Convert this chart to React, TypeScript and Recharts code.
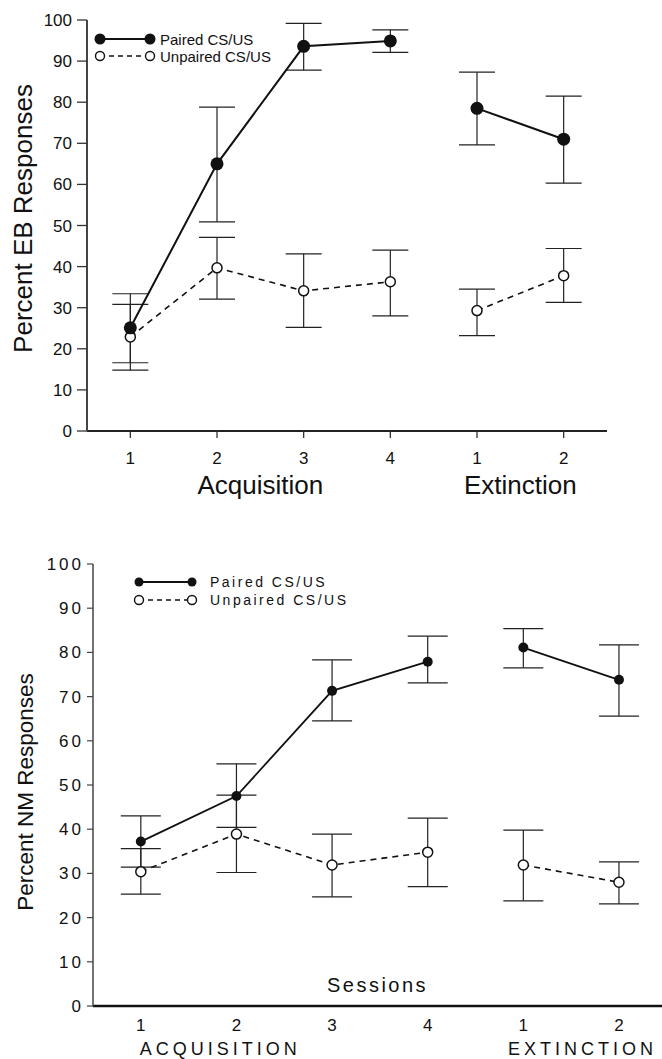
import { LineChart, Line, XAxis, YAxis, ErrorBar, Legend, Label } from 'recharts';

const FONT = 'Arial, "Liberation Sans", Helvetica, sans-serif';

// shared x layout: 4 acquisition sessions then 2 extinction sessions
const sessions = [1, 2, 3, 4, 5, 6];
const sessionTicks = ['1', '2', '3', '4', '1', '2'];
const acqCount = 4;
const yTicks = [0, 10, 20, 30, 40, 50, 60, 70, 80, 90, 100];
const legendNames = ['Paired CS/US', 'Unpaired CS/US'];

// top panel: eyeblink (EB)
const ebPhaseLabels = ['Acquisition', 'Extinction'];
const ebPhaseTicks = [2.5, 5.5];
const ebPaired = [25.1, 65, 93.6, 94.9, 78.5, 71];
const ebPairedLo = [16.6, 50.9, 87.8, 92.1, 69.6, 60.3];
const ebPairedHi = [33.4, 78.8, 99.2, 97.6, 87.3, 81.5];
const ebUnpaired = [22.9, 39.7, 34.1, 36.3, 29.3, 37.8];
const ebUnpairedLo = [14.8, 32.1, 25.2, 28, 23.2, 31.3];
const ebUnpairedHi = [30.8, 47.1, 43.1, 44, 34.5, 44.4];

// bottom panel: nictitating membrane (NM)
const nmPhaseLabels = ['ACQUISITION', 'EXTINCTION'];
const nmPhaseTicks = [1.83, 5.62];
const nmPaired = [37.2, 47.5, 71.3, 77.9, 81.1, 73.8];
const nmPairedLo = [31.4, 40.4, 64.5, 73.1, 76.5, 65.6];
const nmPairedHi = [43, 54.8, 78.3, 83.7, 85.4, 81.7];
const nmUnpaired = [30.4, 38.9, 31.9, 34.8, 31.9, 28];
const nmUnpairedLo = [25.3, 30.2, 24.7, 27, 23.8, 23.1];
const nmUnpairedHi = [35.6, 47.7, 38.9, 42.5, 39.8, 32.6];

function buildRows(p: number[], pLo: number[], pHi: number[], u: number[], uLo: number[], uHi: number[]) {
  return sessions.map((x, i) => {
    const acq = i < acqCount;
    const pErr = [p[i] - pLo[i], pHi[i] - p[i]];
    const uErr = [u[i] - uLo[i], uHi[i] - u[i]];
    return {
      x,
      pairedAcq: acq ? p[i] : null,
      pairedExt: acq ? null : p[i],
      unpairedAcq: acq ? u[i] : null,
      unpairedExt: acq ? null : u[i],
      pairedAcqErr: acq ? pErr : undefined,
      pairedExtErr: acq ? undefined : pErr,
      unpairedAcqErr: acq ? uErr : undefined,
      unpairedExtErr: acq ? undefined : uErr,
    };
  });
}

const ebRows = buildRows(ebPaired, ebPairedLo, ebPairedHi, ebUnpaired, ebUnpairedLo, ebUnpairedHi);
const nmRows = buildRows(nmPaired, nmPairedLo, nmPairedHi, nmUnpaired, nmUnpairedLo, nmUnpairedHi);

interface SeriesStyle {
  lineW: number;
  filledR: number;
  openR: number;
  capW: number;
}

// unpaired first so paired dots sit on top
const seriesKeys: [string, boolean][] = [
  ['unpairedAcq', false],
  ['unpairedExt', false],
  ['pairedAcq', true],
  ['pairedExt', true],
];

const renderSeries = (s: SeriesStyle) =>
  seriesKeys.map(([key, filled]) => (
    <Line
      key={key}
      dataKey={key}
      type="linear"
      isAnimationActive={false}
      connectNulls={false}
      stroke="#111"
      strokeWidth={filled ? s.lineW : 1.6}
      strokeDasharray={filled ? undefined : '6 5'}
      dot={
        filled
          ? { r: s.filledR, fill: '#111', stroke: '#111', strokeWidth: 0, strokeDasharray: 'none' }
          : { r: s.openR, fill: '#fff', stroke: '#111', strokeWidth: 1.5, strokeDasharray: 'none' }
      }
      activeDot={false}
      legendType="none"
    >
      <ErrorBar dataKey={key + 'Err'} direction="y" width={s.capW} stroke="#222" strokeWidth={1.2} />
    </Line>
  ));

interface LegendCfg {
  x1: number;
  x2: number;
  tx: number;
  y0: number;
  gap: number;
  rFilled: number;
  rOpen: number;
  fs: number;
  ls: number;
}

const legendContent = (c: LegendCfg) => () => (
  <svg width={260} height={40} style={{ display: 'block' }}>
    {legendNames.map((name, i) => {
      const y = c.y0 + i * c.gap;
      const filled = i === 0;
      return (
        <g key={name}>
          <line
            x1={c.x1}
            x2={c.x2}
            y1={y}
            y2={y}
            stroke="#111"
            strokeWidth={filled ? 2 : 1.6}
            strokeDasharray={filled ? undefined : '5 4'}
          />
          {[c.x1, c.x2].map((cx) => (
            <circle
              key={cx}
              cx={cx}
              cy={y}
              r={filled ? c.rFilled : c.rOpen}
              fill={filled ? '#111' : '#fff'}
              stroke="#111"
              strokeWidth={filled ? 0 : 1.4}
            />
          ))}
          <text x={c.tx} y={y} dominantBaseline="central" fontSize={c.fs} letterSpacing={c.ls} fill="#111" fontFamily={FONT}>
            {name}
          </text>
        </g>
      );
    })}
  </svg>
);

const yLabel = (text: string, dx: number, dy: number, fs: number) => (props: any) => {
  const { x, y, height } = props.viewBox;
  const cx = x + dx;
  const cy = y + height / 2 + dy;
  return (
    <text
      x={cx}
      y={cy}
      transform={`rotate(-90 ${cx} ${cy})`}
      textAnchor="middle"
      dominantBaseline="central"
      fontSize={fs}
      fill="#111"
      fontFamily={FONT}
    >
      {text}
    </text>
  );
};

function EyeblinkPanel() {
  return (
    <LineChart width={662} height={505} data={ebRows} margin={{ top: 20, right: 55, bottom: 4, left: 0 }}>
      <XAxis
        dataKey="x"
        type="number"
        domain={[0.5, 6.5]}
        allowDataOverflow
        ticks={sessions}
        interval={0}
        tickFormatter={(v: number) => sessionTicks[v - 1]}
        height={40}
        tickSize={7}
        tickMargin={14}
        axisLine={{ stroke: '#222', strokeWidth: 2 }}
        tickLine={{ stroke: '#333', strokeWidth: 1.3 }}
        tick={{ fontSize: 17, fill: '#111', fontFamily: FONT }}
      />
      <XAxis
        xAxisId="phase"
        dataKey="x"
        type="number"
        domain={[0.5, 6.5]}
        allowDataOverflow
        ticks={ebPhaseTicks}
        interval={0}
        tickFormatter={(v: number) => ebPhaseLabels[ebPhaseTicks.indexOf(v)]}
        height={30}
        tickSize={0}
        tickMargin={5}
        axisLine={false}
        tickLine={false}
        tick={{ fontSize: 26, fill: '#111', fontFamily: FONT }}
      />
      <YAxis
        type="number"
        domain={[0, 100]}
        ticks={yTicks}
        interval={0}
        width={87}
        tickSize={10}
        tickMargin={5}
        axisLine={{ stroke: '#444', strokeWidth: 2 }}
        tickLine={{ stroke: '#333', strokeWidth: 1.3 }}
        tick={{ fontSize: 17, fill: '#111', fontFamily: FONT }}
      >
        <Label content={yLabel('Percent EB Responses', 23, -7, 26)} />
      </YAxis>
      <Legend
        layout="vertical"
        align="center"
        verticalAlign="middle"
        wrapperStyle={{ left: 92, top: 30, width: 260, height: 40 }}
        content={legendContent({ x1: 8, x2: 58, tx: 68, y0: 9, gap: 17, rFilled: 5.5, rOpen: 4.5, fs: 15, ls: 0 })}
      />
      {renderSeries({ lineW: 2, filledR: 6.5, openR: 5, capW: 18 })}
    </LineChart>
  );
}

function NictitatingPanel() {
  return (
    <LineChart width={662} height={529} data={nmRows} margin={{ top: 34, right: 0, bottom: 0, left: 0 }}>
      <XAxis
        dataKey="x"
        type="number"
        domain={[0.5, 6.45]}
        allowDataOverflow
        ticks={sessions}
        interval={0}
        tickFormatter={(v: number) => sessionTicks[v - 1]}
        height={30}
        tickSize={0}
        tickMargin={13}
        axisLine={{ stroke: '#111', strokeWidth: 2.5 }}
        tickLine={false}
        tick={{ fontSize: 17, fill: '#111', fontFamily: FONT }}
      >
        <Label value="Sessions" position="top" offset={14} fontSize={20} letterSpacing={2.5} fill="#111" fontFamily={FONT} />
      </XAxis>
      <XAxis
        xAxisId="phase"
        dataKey="x"
        type="number"
        domain={[0.5, 6.45]}
        allowDataOverflow
        ticks={nmPhaseTicks}
        interval={0}
        tickFormatter={(v: number) => nmPhaseLabels[nmPhaseTicks.indexOf(v)]}
        height={23}
        tickSize={0}
        tickMargin={6}
        axisLine={false}
        tickLine={false}
        tick={{ fontSize: 18, fill: '#111', fontFamily: FONT, letterSpacing: 4 }}
      />
      <YAxis
        type="number"
        domain={[0, 100]}
        ticks={yTicks}
        interval={0}
        width={93}
        tickSize={6}
        tickMargin={3}
        axisLine={{ stroke: '#444', strokeWidth: 1.5 }}
        tickLine={{ stroke: '#444', strokeWidth: 1.2 }}
        tick={{ fontSize: 17, fill: '#111', fontFamily: FONT, letterSpacing: 3 }}
      >
        <Label content={yLabel('Percent NM Responses', 25, 7, 22.5)} />
      </YAxis>
      <Legend
        layout="vertical"
        align="center"
        verticalAlign="middle"
        wrapperStyle={{ left: 130, top: 43, width: 260, height: 40 }}
        content={legendContent({ x1: 9, x2: 62, tx: 80, y0: 9, gap: 18, rFilled: 4.5, rOpen: 4.5, fs: 14, ls: 2.5 })}
      />
      {renderSeries({ lineW: 1.8, filledR: 5, openR: 5, capW: 20 })}
    </LineChart>
  );
}

export default function App() {
  return (
    <div style={{ position: 'absolute', left: 0, top: 0, width: 662, height: 1059, background: '#fff', fontFamily: FONT }}>
      <div style={{ position: 'absolute', left: 0, top: 0 }}>
        <EyeblinkPanel />
      </div>
      <div style={{ position: 'absolute', left: 0, top: 530 }}>
        <NictitatingPanel />
      </div>
    </div>
  );
}
